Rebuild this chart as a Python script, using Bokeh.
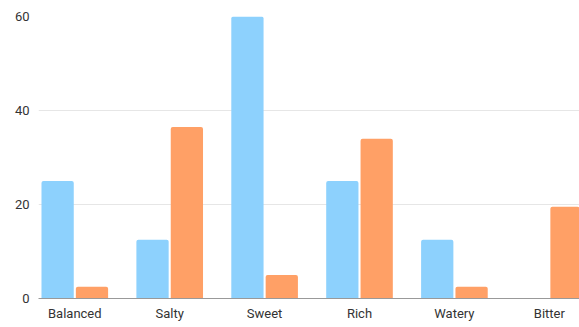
from bokeh.plotting import figure
from bokeh.models import ColumnDataSource, Range1d, FixedTicker
from bokeh.transform import dodge
from bokeh.embed import file_html
from bokeh.resources import INLINE

categories = ["Balanced", "Salty", "Sweet", "Rich", "Watery", "Bitter"]
series_a = [25, 12.5, 60, 25, 12.5, 0]
series_b = [2.5, 36.5, 5, 34, 2.5, 19.5]
y_ticks = [0, 20, 40, 60]

pos = list(range(len(categories)))
src = ColumnDataSource(dict(x=pos, a=series_a, b=series_b))

p = figure(x_range=Range1d(-0.3825, 5.318), y_range=Range1d(0, 60),
           width=579, height=327,
           output_backend="svg", toolbar_location=None,
           min_border_left=38, min_border_right=0, min_border_top=16,
           min_border_bottom=29)

p.vbar(x=dodge("x", -0.181), top="a", width=0.34,
       source=src, color="#8dd1fd", line_color=None, border_radius=(2, 2, 0, 0))
p.vbar(x=dodge("x", 0.181), top="b", width=0.34,
       source=src, color="#ffa066", line_color=None, border_radius=(2, 2, 0, 0))

p.outline_line_color = None
p.xgrid.grid_line_color = None
p.ygrid.grid_line_color = "#e6e6e6"
p.ygrid.ticker = FixedTicker(ticks=y_ticks)
p.yaxis.ticker = FixedTicker(ticks=y_ticks)
p.xaxis.ticker = FixedTicker(ticks=pos)
p.xaxis.major_label_overrides = {i: c for i, c in zip(pos, categories)}
p.yaxis.axis_line_color = None
p.yaxis.major_tick_line_color = None
p.yaxis.minor_tick_line_color = None
p.yaxis.major_tick_out = 0
p.yaxis.major_tick_in = 0
p.yaxis.major_label_standoff = 9
p.xaxis.axis_line_color = "#999999"
p.xaxis.major_tick_line_color = None
p.xaxis.minor_tick_line_color = None
p.xaxis.major_tick_out = 0
p.xaxis.major_tick_in = 0
p.xaxis.major_label_standoff = 7
for ax in (p.xaxis, p.yaxis):
    ax.major_label_text_font = "Roboto"
    ax.major_label_text_font_size = "13px"
    ax.major_label_text_color = "#333333"

open("out.html", "w").write(file_html(p, INLINE))
